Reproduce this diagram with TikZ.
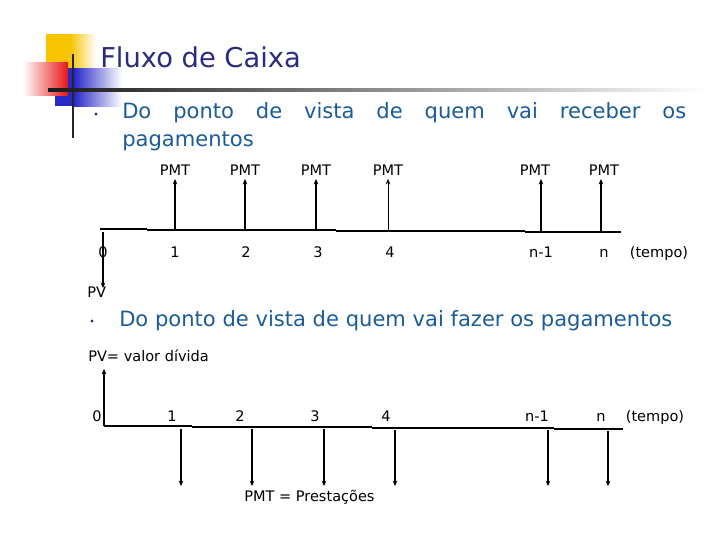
\documentclass[tikz,border=0pt]{standalone}
\usepackage{fontspec}
\setmainfont{DejaVu Sans}
\usetikzlibrary{arrows.meta}
\definecolor{titleblue}{RGB}{43,43,128}
\definecolor{textblue}{RGB}{28,92,150}
\definecolor{boxyellow}{RGB}{246,196,0}
\definecolor{boxred}{RGB}{232,20,20}
\definecolor{boxblue}{RGB}{40,40,200}
\tikzset{
  titletext/.style={anchor=base west,inner sep=0pt,text=titleblue,font=\fontsize{20.5}{24}\selectfont},
  bodytext/.style={anchor=base west,inner sep=0pt,text=textblue,font=\fontsize{15.8}{21}\selectfont},
  bulletdot/.style={circle,fill=titleblue,inner sep=0pt,minimum size=2.4pt},
  flowlabel/.style={anchor=base,inner sep=0pt,font=\fontsize{10.9}{13}\selectfont},
  axisline/.style={line width=0.9pt},
  flowarrow/.style={line width=1.5pt,-{Stealth[length=4pt,width=3.5pt]}},
  thinarrow/.style={line width=0.6pt,-{Stealth[length=4pt,width=3.5pt]}}
}
\begin{document}
\begin{tikzpicture}[x=0.75pt,y=-0.75pt]
  \fill[white] (0,0) rectangle (720,540);
  \useasboundingbox (0,0) rectangle (720,540);
  % title decoration
  \fill[boxyellow] (46,34) rectangle (70,68);
  \shade[left color=boxyellow,right color=white] (70,34) rectangle (96,68);
  \fill[boxblue] (55,68) rectangle (74,106);
  \shade[left color=boxblue,right color=white] (74,68) rectangle (122,106);
  \shade[left color=white,right color=boxred] (23,62) rectangle (68,95);
  \draw[line width=2.2pt,black!85] (73,54) -- (73,138);
  \shade[left color=black!90,right color=white] (48,88) rectangle (705,91);
  \node[titletext] (title) at (100,67) {Fluxo de Caixa};
  % first point of view
  \node[bulletdot] (dotA) at (96,114) {};
  \node[bodytext] (lineA1) at (122,118) {\makebox[423pt][s]{Do ponto de vista de quem vai receber os}};
  \node[bodytext] (lineA2) at (122,146) {pagamentos};
  \coordinate (axA0) at (100,229);
  \coordinate (axA1) at (147,229);
  \coordinate (axA2) at (147,230);
  \coordinate (axA3) at (336,230);
  \coordinate (axA4) at (336,231);
  \coordinate (axA5) at (525,231);
  \coordinate (axA6) at (525,232);
  \coordinate (axA7) at (621,232);
  \draw[axisline] (axA0) -- (axA1);
  \draw[axisline] (axA2) -- (axA3);
  \draw[axisline] (axA4) -- (axA5);
  \draw[axisline] (axA6) -- (axA7);
  \node[flowlabel] (pmtA1) at (175,175) {PMT};
  \node[flowlabel] (pmtA2) at (245,175) {PMT};
  \node[flowlabel] (pmtA3) at (316,175) {PMT};
  \node[flowlabel] (pmtA4) at (388,175) {PMT};
  \node[flowlabel] (pmtAm) at (535,175) {PMT};
  \node[flowlabel] (pmtAn) at (604,175) {PMT};
  \coordinate (upA1) at (175,230);
  \coordinate (upA2) at (245,230);
  \coordinate (upA3) at (316,230);
  \coordinate (upA4) at (388,231);
  \coordinate (upAm) at (541,232);
  \coordinate (upAn) at (601,232);
  \coordinate (topA1) at (175,179);
  \coordinate (topA2) at (245,179);
  \coordinate (topA3) at (316,179);
  \coordinate (topA4) at (388,179);
  \coordinate (topAm) at (541,179);
  \coordinate (topAn) at (601,179);
  \draw[flowarrow] (upA1) -- (topA1);
  \draw[flowarrow] (upA2) -- (topA2);
  \draw[flowarrow] (upA3) -- (topA3);
  \draw[thinarrow] (upA4) -- (topA4);
  \draw[flowarrow] (upAm) -- (topAm);
  \draw[flowarrow] (upAn) -- (topAn);
  \node[flowlabel] (tA0) at (103,257) {0};
  \node[flowlabel] (tA1) at (175,257) {1};
  \node[flowlabel] (tA2) at (246,257) {2};
  \node[flowlabel] (tA3) at (318,257) {3};
  \node[flowlabel] (tA4) at (390,257) {4};
  \node[flowlabel] (tAm) at (541,257) {n-1};
  \node[flowlabel] (tAn) at (604,257) {n};
  \node[flowlabel] (tAt) at (659,257) {(tempo)};
  \node[flowlabel,anchor=base west] (pvA) at (87,297) {PV};
  \coordinate (pvstartA) at (103,232);
  \coordinate (pvtipA) at (103,288);
  \draw[flowarrow] (pvstartA) -- (pvtipA);
  % second point of view
  \node[bulletdot] (dotB) at (92,321) {};
  \node[bodytext] (lineB) at (119,326) {Do ponto de vista de quem vai fazer os pagamentos};
  \node[flowlabel,anchor=base west] (pvB) at (88,361) {PV= valor dívida};
  \coordinate (pvstartB) at (104,426);
  \coordinate (pvtipB) at (104,369);
  \draw[flowarrow] (pvstartB) -- (pvtipB);
  \coordinate (axB0) at (104,426);
  \coordinate (axB1) at (192,426);
  \coordinate (axB2) at (192,427);
  \coordinate (axB3) at (372,427);
  \coordinate (axB4) at (372,428);
  \coordinate (axB5) at (554,428);
  \coordinate (axB6) at (554,429);
  \coordinate (axB7) at (623,429);
  \draw[axisline] (axB0) -- (axB1);
  \draw[axisline] (axB2) -- (axB3);
  \draw[axisline] (axB4) -- (axB5);
  \draw[axisline] (axB6) -- (axB7);
  \node[flowlabel] (tB0) at (97,421) {0};
  \node[flowlabel] (tB1) at (172,421) {1};
  \node[flowlabel] (tB2) at (240,421) {2};
  \node[flowlabel] (tB3) at (315,421) {3};
  \node[flowlabel] (tB4) at (386,421) {4};
  \node[flowlabel] (tBm) at (537,421) {n-1};
  \node[flowlabel] (tBn) at (601,421) {n};
  \node[flowlabel] (tBt) at (655,421) {(tempo)};
  \coordinate (dnB1) at (181,429);
  \coordinate (dnB2) at (252,429);
  \coordinate (dnB3) at (324,429);
  \coordinate (dnB4) at (395,430);
  \coordinate (dnBm) at (548,430);
  \coordinate (dnBn) at (608,431);
  \coordinate (endB1) at (181,486);
  \coordinate (endB2) at (252,486);
  \coordinate (endB3) at (324,486);
  \coordinate (endB4) at (395,486);
  \coordinate (endBm) at (548,486);
  \coordinate (endBn) at (608,486);
  \draw[flowarrow] (dnB1) -- (endB1);
  \draw[flowarrow] (dnB2) -- (endB2);
  \draw[flowarrow] (dnB3) -- (endB3);
  \draw[flowarrow] (dnB4) -- (endB4);
  \draw[flowarrow] (dnBm) -- (endBm);
  \draw[flowarrow] (dnBn) -- (endBn);
  \node[flowlabel,anchor=base west] (prest) at (244,501) {PMT = Prestações};
\end{tikzpicture}
\end{document}
